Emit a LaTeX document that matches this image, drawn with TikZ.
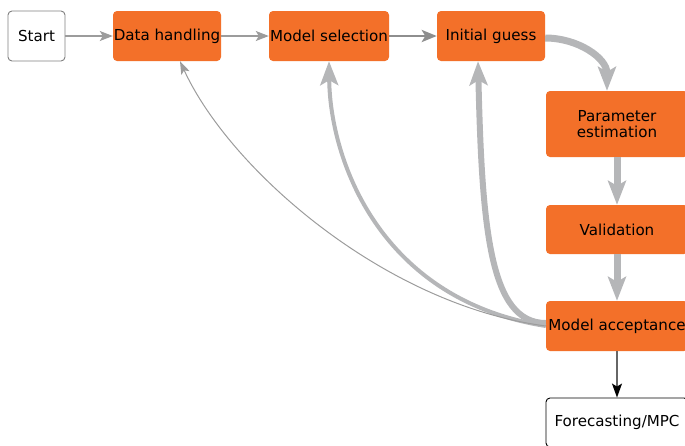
\documentclass[tikz,border=0pt]{standalone}
\usepackage{fontspec}
\setmainfont{DejaVu Sans}
\usetikzlibrary{arrows.meta}
\definecolor{procorange}{HTML}{F37029}
\definecolor{flowgray}{HTML}{B5B6B8}
\definecolor{softgray}{HTML}{9C9C9C}
\definecolor{midgray}{HTML}{8E8E8E}
\definecolor{darkline}{HTML}{666666}

\begin{document}
\begin{tikzpicture}[x=1pt,y=-1pt,
  font=\fontsize{15.1}{16.5}\selectfont,
  box/.style={rounded corners=4pt, inner sep=0pt, align=center, minimum height=50pt},
  proc/.style={box, fill=procorange},
  term/.style={box, draw=#1, fill=white, line width=0.9pt},
  thinflow/.style={draw=softgray, line width=1.3pt,
    -{Stealth[length=13pt,width=10pt,inset=3pt]}},
  midflow/.style={draw=midgray, line width=2.8pt,
    -{Stealth[length=15pt,width=12pt,inset=3.5pt]}},
  heavyflow/.style={draw=flowgray, line width=#1,
    -{Stealth[length=24pt,width=18pt,inset=5pt]}},
  heavyflow/.default=7pt,
]
\useasboundingbox (0,0) rectangle (685,445);

% process steps
\node[term=gray, minimum width=57pt] (start) at (36.5,36) {Start};
\node[proc, minimum width=108pt] (dh) at (167,36) {Data handling};
\node[proc, minimum width=120pt] (ms) at (329,36) {Model selection};
\node[proc, minimum width=108pt] (ig) at (491,36) {Initial guess};
\node[proc, minimum width=142pt, minimum height=66pt] (pe) at (617,124) {Parameter\\estimation};
\node[proc, minimum width=142pt, minimum height=49pt] (val) at (617,229.5) {Validation};
\node[proc, minimum width=142pt] (ma) at (617,326) {Model acceptance};
\node[term=black, minimum width=142pt, minimum height=49pt] (fc) at (617,422.5) {Forecasting/MPC};

% forward flow
\draw[thinflow] (start) -- (dh);
\draw[thinflow] (dh) -- (ms);
\draw[midflow] (ms) -- (ig);
\draw[heavyflow] ([yshift=-2pt]ig.east) .. controls (578,38) and (607,58) .. ([xshift=-10pt]pe.north);
\draw[heavyflow] (pe) -- (val);
\draw[heavyflow] (val) -- (ma);
\draw[draw=darkline, line width=1.3pt,
  -{Stealth[length=14pt,width=10pt,inset=3pt,black]}] (ma) -- (fc);

% feedback loops
\draw[heavyflow=6pt] ([yshift=3pt]ma.west) .. controls (490,323) and (482,230) .. ([xshift=-13pt]ig.south);
\draw[heavyflow=4pt] (ma.west) .. controls (380,300) and (330,160) .. (ms.south);
\draw[draw=softgray, line width=1pt,
  -{Stealth[length=13pt,width=9pt,inset=3pt]}] (ma.west) .. controls (385,305) and (230,170) .. ([xshift=13pt]dh.south);
\end{tikzpicture}
\end{document}
